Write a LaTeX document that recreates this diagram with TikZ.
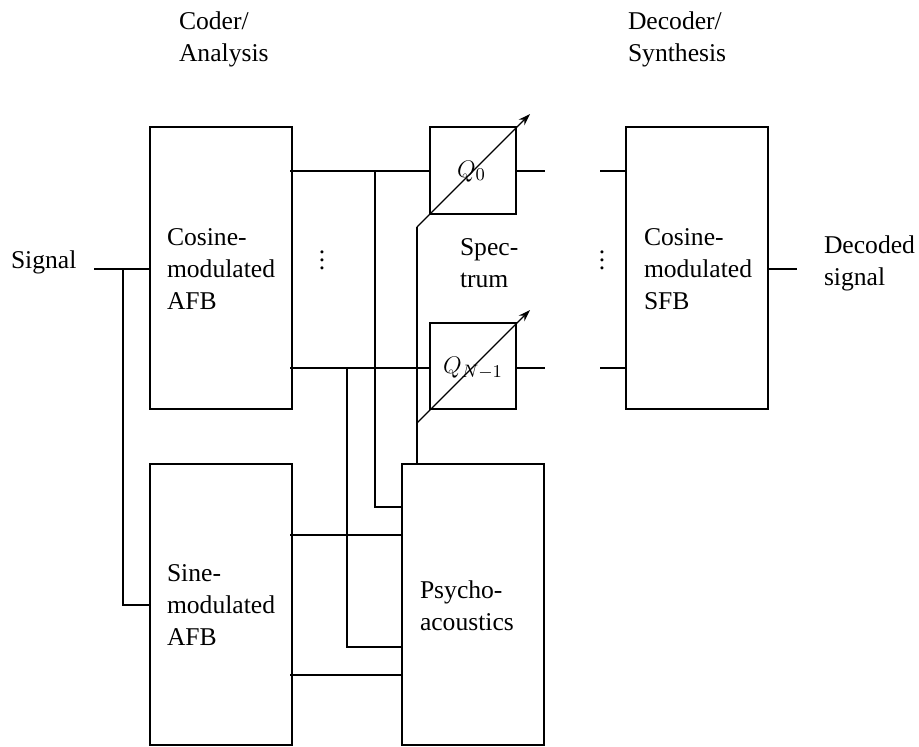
\documentclass[tikz,border=0pt]{standalone}
\usepackage{fontspec}
\setmainfont{Liberation Serif}
\usetikzlibrary{arrows.meta}
\tikzset{
  blockbox/.style={draw=black,line width=1pt,fill=none,inner sep=0pt,outer sep=0pt},
  wire/.style={draw=black,line width=1pt,line cap=butt,line join=miter},
  gain/.style={draw=black,line width=0.65pt,-{Stealth[length=6pt,width=4pt]}},
  lbl/.style={inner sep=0pt,outer sep=0pt,anchor=base west,align=left,font=\fontsize{12.8}{15.8}\selectfont}
}
\begin{document}
\begin{tikzpicture}[x=0.5pt,y=-0.5pt]
\useasboundingbox (0,0) rectangle (919,746);
% blocks
\node[blockbox,minimum width=71pt,minimum height=141pt] (cos) at (221,268) {};
\node[blockbox,minimum width=71pt,minimum height=140.5pt] (sin) at (221,604.75) {};
\node[blockbox,minimum width=71pt,minimum height=140.5pt] (psy) at (473,604.75) {};
\node[blockbox,minimum width=43pt,minimum height=43.5pt] (q0) at (473,170.5) {};
\node[blockbox,minimum width=43pt,minimum height=43pt] (qn) at (473,366) {};
\node[blockbox,minimum width=71pt,minimum height=141pt] (sfb) at (697,268) {};
% labels
\node[lbl] (lcoder) at (179,61) {Coder/\\Analysis};
\node[lbl] (ldec) at (628,61) {Decoder/\\Synthesis};
\node[lbl] (lsig) at (11,268) {Signal};
\node[lbl] (lcos) at (167,309) {Cosine-\\modulated\\AFB};
\node[lbl] (lsin) at (167,645) {Sine-\\modulated\\AFB};
\node[lbl] (lpsy) at (420,630) {Psycho-\\acoustics};
\node[lbl] (lspec) at (460,287) {Spec-\\trum};
\node[lbl] (lsfb) at (644,309) {Cosine-\\modulated\\SFB};
\node[lbl] (lout) at (824,285) {Decoded\\signal};
\node[lbl] (lq0) at (457,177) {$Q_0$};
\node[lbl] (lqn) at (443,373) {$Q_{N-1}$};
\node[lbl,anchor=center] (d1) at (322,254) {$\vdots$};
\node[lbl,anchor=center] (d2) at (602,254) {$\vdots$};
% connection points
\coordinate (s0) at (94,269);
\coordinate (sj) at (123,269);
\coordinate (out) at (797,269);
\coordinate (c1) at (290,171);
\coordinate (c2) at (290,368);
\coordinate (j1) at (375,171);
\coordinate (j2) at (347,368);
\coordinate (q0o) at (545,171);
\coordinate (qno) at (545,368);
\coordinate (f0) at (600,171);
\coordinate (fn) at (600,368);
\coordinate (sa) at (290,535);
\coordinate (sb) at (290,675);
\coordinate (cv) at (417,227);
\coordinate (cv2) at (417,423);
\coordinate (a0) at (530,114);
\coordinate (an) at (530,310);
% wires
\draw[wire] (s0) -- (cos.west|-s0);
\draw[wire] (sj) -- (123,605) -- (sin.west|-0,605);
\draw[wire] (c1) -- (q0.west|-c1);
\draw[wire] (c2) -- (qn.west|-c2);
\draw[wire] (q0.east|-q0o) -- (q0o);
\draw[wire] (qn.east|-qno) -- (qno);
\draw[wire] (f0) -- (sfb.west|-f0);
\draw[wire] (fn) -- (sfb.west|-fn);
\draw[wire] (sfb.east|-out) -- (out);
\draw[wire] (j1) -- (375,507) -- (psy.west|-0,507);
\draw[wire] (j2) -- (347,647) -- (psy.west|-0,647);
\draw[wire] (sa) -- (psy.west|-sa);
\draw[wire] (sb) -- (psy.west|-sb);
\draw[wire] (psy.north-|cv) -- (cv);
% gain controls
\draw[gain] (cv) -- (a0);
\draw[gain] (cv2) -- (an);
\end{tikzpicture}
\end{document}
